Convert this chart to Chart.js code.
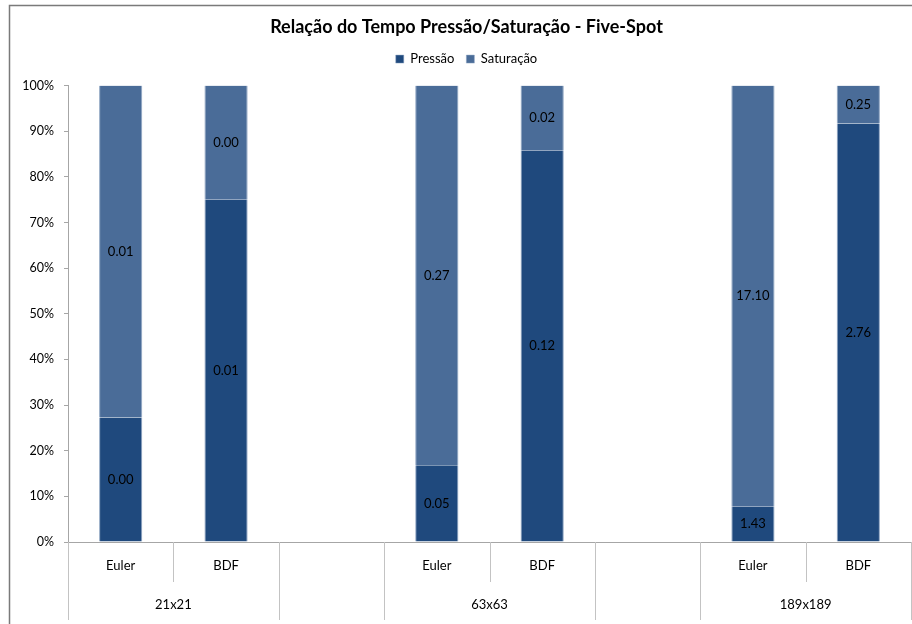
<!DOCTYPE html>
<html>
<head>
<meta charset="utf-8">
<script src="https://cdn.jsdelivr.net/npm/chart.js@4/dist/chart.umd.min.js"></script>
<style>
  html, body { margin: 0; padding: 0; background: #fff; overflow: hidden; }
  #wrap { width: 933px; height: 624px; }
</style>
</head>
<body>
<div id="wrap"><canvas id="tempo_chart" width="933" height="624"></canvas></div>
<script>
// metodo por coluna, a coluna vazia separa as malhas
const metodos = ['Euler', 'BDF', '', 'Euler', 'BDF', '', 'Euler', 'BDF'];
const malhas = ['21x21', '', '63x63', '', '189x189'];
const colunasPorMalha = [2, 1, 2, 1, 2];

const pressao   = [0.003, 0.0075, null, 0.054, 0.12, null, 1.43, 2.76];
const saturacao = [0.008, 0.0025, null, 0.267, 0.02, null, 17.10, 0.25];

const yTicks = [0, 10, 20, 30, 40, 50, 60, 70, 80, 90, 100];

const fonte = 'Lato, "Open Sans", sans-serif';

// percentuais para a barra empilhada 100%
function percent(a, b){
    return a.map(function(v, i){
        if (v == null) return null;
        return v / (v + b[i]) * 100;
    });
}
const pressaoPct = percent(pressao, saturacao);
const saturacaoPct = percent(saturacao, pressao);

const moldura = {
    id: 'moldura',
    beforeDraw(chart){
        const ctx = chart.ctx;
        ctx.save();
        ctx.fillStyle = '#fff';
        ctx.fillRect(0, 0, chart.width, chart.height);
        ctx.strokeStyle = '#7a7a7a';
        ctx.lineWidth = 1.5;
        ctx.beginPath();
        ctx.moveTo(9.5, chart.height);
        ctx.lineTo(9.5, 5.5);
        ctx.lineTo(chart.width, 5.5);
        ctx.stroke();
        ctx.restore();
    }
};

// mais espaco entre a legenda e a area do grafico
const folgaLegenda = {
    id: 'folgaLegenda',
    afterInit(chart){
        const fit = chart.legend.fit;
        chart.legend.fit = function(){
            fit.call(this);
            this.height += 10;
        };
    }
};

const eixoCategorias = {
    id: 'eixoCategorias',
    afterDraw(chart){
        const ctx = chart.ctx;
        const x = chart.scales.x;
        const base = chart.chartArea.bottom;
        const half = (x.getPixelForValue(1) - x.getPixelForValue(0)) / 2;
        ctx.save();
        ctx.strokeStyle = '#c3c3c3';
        ctx.lineWidth = 1;
        ctx.fillStyle = '#000';
        ctx.font = '13px ' + fonte;
        ctx.textAlign = 'center';
        ctx.textBaseline = 'middle';
        // separadores curtos e rotulos dos metodos
        for (let i = 0; i < metodos.length; i++){
            const cx = x.getPixelForValue(i);
            ctx.beginPath();
            ctx.moveTo(Math.round(cx + half) + 0.5, base);
            ctx.lineTo(Math.round(cx + half) + 0.5, base + 40);
            ctx.stroke();
            if (metodos[i]) ctx.fillText(metodos[i], cx, base + 24);
        }
        // separadores longos e rotulos das malhas
        let idx = 0;
        ctx.beginPath();
        ctx.moveTo(Math.round(x.getPixelForValue(0) - half) + 0.5, base);
        ctx.lineTo(Math.round(x.getPixelForValue(0) - half) + 0.5, base + 78);
        ctx.stroke();
        for (let g = 0; g < malhas.length; g++){
            const x0 = x.getPixelForValue(idx) - half;
            idx += colunasPorMalha[g];
            const x1 = x.getPixelForValue(idx - 1) + half;
            ctx.beginPath();
            ctx.moveTo(Math.round(x1) + 0.5, base);
            ctx.lineTo(Math.round(x1) + 0.5, base + 78);
            ctx.stroke();
            if (malhas[g]) ctx.fillText(malhas[g], (x0 + x1) / 2, base + 63);
        }
        ctx.restore();
    }
};

const rotulos = {
    id: 'rotulos',
    afterDatasetsDraw(chart){
        const ctx = chart.ctx;
        const brutos = [pressao, saturacao];
        ctx.save();
        ctx.fillStyle = '#000';
        ctx.font = '13px ' + fonte;
        ctx.textAlign = 'center';
        ctx.textBaseline = 'middle';
        chart.data.datasets.forEach(function(ds, d){
            chart.getDatasetMeta(d).data.forEach(function(bar, i){
                const v = brutos[d][i];
                if (v == null) return;
                ctx.fillText(v.toFixed(2), bar.x, (bar.y + bar.base) / 2);
            });
        });
        ctx.restore();
    }
};

let chart = new Chart('tempo_chart', {
    type: 'bar',
    data: {
        labels: metodos,
        datasets: [{
            label: 'Pressão',
            data: pressaoPct,
            backgroundColor: '#1f497d',
            borderColor: '#8fa5c2',
            borderWidth: { left: 1, right: 1, top: 0, bottom: 0 },
            barPercentage: 0.41,
            categoryPercentage: 1
        },{
            label: 'Saturação',
            data: saturacaoPct,
            backgroundColor: '#4a6c98',
            borderColor: '#8fa5c2',
            borderWidth: { left: 1, right: 1, top: 0, bottom: 0 },
            barPercentage: 0.41,
            categoryPercentage: 1
        }]
    },
    options: {
        responsive: false,
        animation: false,
        layout: { padding: { left: 0, right: 0, top: 0, bottom: 2 } },
        plugins: {
            title: {
                display: true,
                text: 'Relação do Tempo Pressão/Saturação - Five-Spot',
                color: '#000',
                font: { family: fonte, size: 18, weight: 'bold' },
                padding: { top: 16, bottom: 3 }
            },
            legend: {
                labels: {
                    boxWidth: 8,
                    boxHeight: 8,
                    padding: 12,
                    color: '#000',
                    font: { family: fonte, size: 13 }
                }
            },
            tooltip: { enabled: false }
        },
        scales: {
            x: {
                stacked: true,
                grid: { display: false },
                ticks: { display: false },
                border: { display: true, color: '#a6a6a6' },
                afterFit(s){ s.height = 80; }
            },
            y: {
                stacked: true,
                min: 0,
                max: 100,
                afterBuildTicks(s){ s.ticks = yTicks.map(v => ({ value: v })); },
                ticks: {
                    padding: 10,
                    color: '#000',
                    font: { family: fonte, size: 12.5 },
                    callback: v => v + '%'
                },
                grid: { drawOnChartArea: false, drawTicks: true, tickLength: 4, color: '#a6a6a6' },
                border: { display: true, color: '#a6a6a6' },
                afterFit(s){ s.width = 68; }
            },
            folga: {
                type: 'linear',
                position: 'right',
                display: true,
                grid: { display: false },
                ticks: { display: false },
                border: { display: false },
                afterFit(s){ s.width = 22; }
            }
        }
    },
    plugins: [moldura, folgaLegenda, eixoCategorias, rotulos]
});
</script>
</body>
</html>
